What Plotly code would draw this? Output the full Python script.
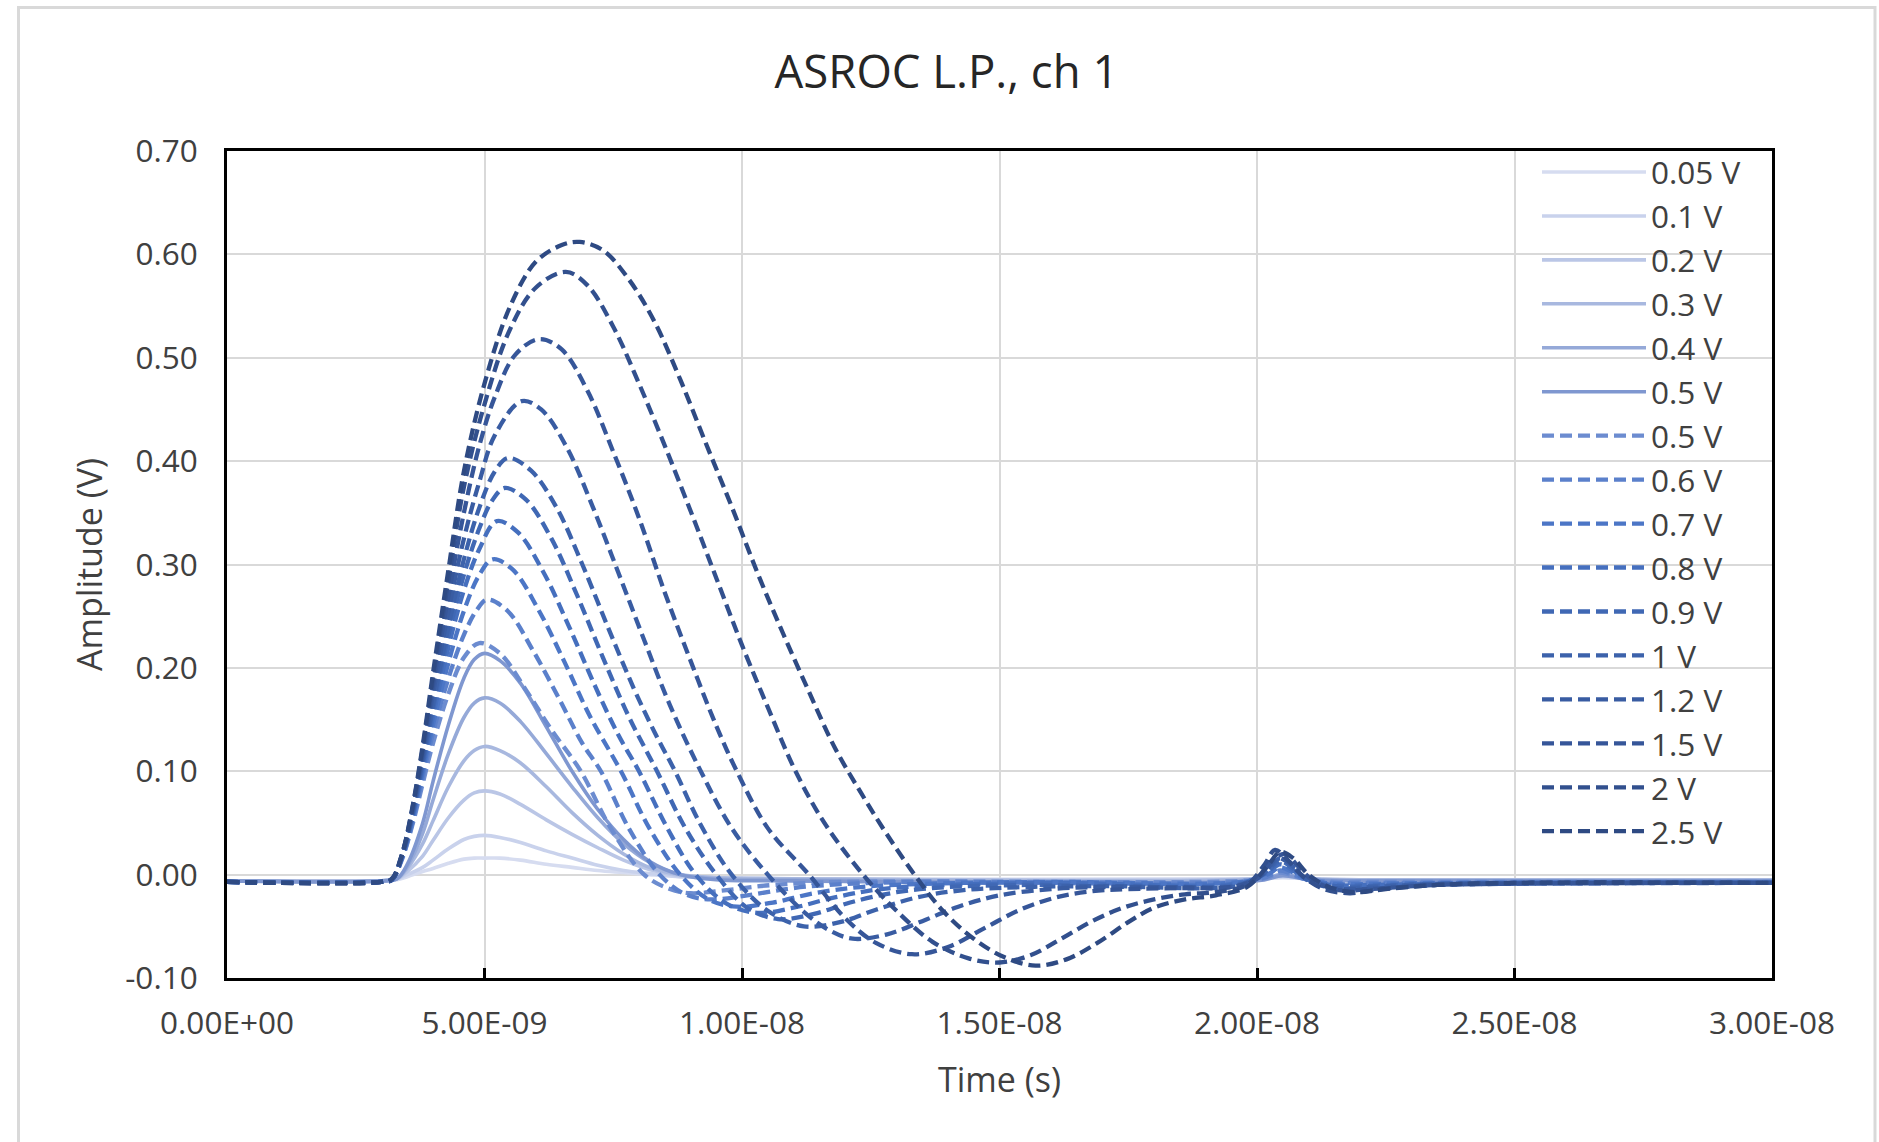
import plotly.graph_objects as go

# ---------------- data (time in ns, amplitude in V) ----------------
labels = ["0.05 V", "0.1 V", "0.2 V", "0.3 V", "0.4 V", "0.5 V",
          "0.5 V", "0.6 V", "0.7 V", "0.8 V", "0.9 V", "1 V", "1.2 V", "1.5 V", "2 V", "2.5 V"]

x_tickvals = [0, 5e-9, 1e-8, 1.5e-8, 2e-8, 2.5e-8, 3e-8]
x_ticktext = ["0.00E+00", "5.00E-09", "1.00E-08", "1.50E-08", "2.00E-08", "2.50E-08", "3.00E-08"]
y_tickvals = [-0.1, 0.0, 0.1, 0.2, 0.3, 0.4, 0.5, 0.6, 0.7]
y_ticktext = ["-0.10", "0.00", "0.10", "0.20", "0.30", "0.40", "0.50", "0.60", "0.70"]

t_solid = [0, 3.0, 3.3, 3.5, 3.8, 4.0, 4.3, 4.6, 4.8, 5.0, 5.3, 5.7, 6.2, 6.7, 7.2, 7.7, 8.2, 8.8, 9.5, 11,
           20, 20.5, 21, 22, 30]
v_005 = [-0.006, -0.006, -0.005, -0.002, 0.003, 0.006, 0.011, 0.015, 0.016, 0.016, 0.016, 0.014, 0.01, 0.007,
         0.004, 0.002, 0.0, -0.002, -0.003, -0.004, -0.004, -0.003, -0.004, -0.005, -0.005]
v_01 = [-0.006, -0.006, -0.004, 0.0, 0.007, 0.014, 0.025, 0.034, 0.037, 0.038, 0.036, 0.031, 0.023, 0.016,
        0.009, 0.004, 0.001, -0.002, -0.003, -0.004, -0.004, -0.002, -0.004, -0.005, -0.005]
v_02 = [-0.006, -0.006, -0.004, 0.003, 0.018, 0.033, 0.055, 0.072, 0.079, 0.081, 0.078, 0.068, 0.053, 0.039,
        0.026, 0.014, 0.005, -0.001, -0.003, -0.004, -0.004, -0.001, -0.004, -0.005, -0.005]
v_03 = [-0.006, -0.006, -0.004, 0.006, 0.03, 0.052, 0.085, 0.11, 0.12, 0.124, 0.12, 0.108, 0.085, 0.06,
        0.038, 0.02, 0.007, 0.0, -0.003, -0.004, -0.004, 0.0, -0.004, -0.005, -0.005]
v_04 = [-0.006, -0.006, -0.004, 0.008, 0.04, 0.072, 0.117, 0.152, 0.166, 0.171, 0.166, 0.148, 0.117, 0.085,
        0.055, 0.03, 0.012, 0.0, -0.004, -0.005, -0.005, 0.0, -0.004, -0.006, -0.006]
v_05s = [-0.006, -0.006, -0.004, 0.01, 0.05, 0.09, 0.145, 0.19, 0.208, 0.214, 0.207, 0.185, 0.143, 0.1,
         0.063, 0.034, 0.013, 0.0, -0.005, -0.006, -0.006, -0.001, -0.005, -0.006, -0.006]

t_05d = [0, 3.0, 3.2, 3.4, 3.6, 3.8, 4.0, 4.3, 4.6, 4.9, 5.3, 5.8, 6.3, 6.87, 7.45, 8.1, 8.6, 9.0, 9.7, 10.6,
         12, 19.7, 20.2, 20.45, 20.7, 21.0, 21.5, 22.2, 30]
v_05d = [-0.007, -0.007, -0.005, 0.015, 0.048, 0.088, 0.127, 0.175, 0.21, 0.224, 0.214, 0.179, 0.14, 0.1,
         0.045, 0.0, -0.014, -0.018, -0.015, -0.01, -0.007, -0.006, -0.003, 0.002, -0.001, -0.005, -0.007,
         -0.007, -0.007]

t_06 = [0, 3.0, 3.2, 3.4, 3.6, 3.8, 4.0, 4.3, 4.6, 4.85, 5.05, 5.45, 5.95, 6.45, 6.9, 7.26, 7.8, 8.4, 8.9, 9.4,
        10.1, 11.0, 12.0, 13.5, 19.7, 20.2, 20.45, 20.7, 21.0, 21.5, 22.2, 30]
v_06 = [-0.007, -0.007, -0.005, 0.016, 0.05, 0.094, 0.137, 0.19, 0.232, 0.256, 0.266, 0.255, 0.216, 0.17,
        0.127, 0.1, 0.045, 0.0, -0.019, -0.024, -0.02, -0.013, -0.009, -0.007, -0.007, -0.002, 0.004, 0.0,
        -0.005, -0.008, -0.008, -0.008]

t_07 = [0, 3.0, 3.2, 3.4, 3.6, 3.8, 4.0, 4.3, 4.6, 4.9, 5.16, 5.55, 6.05, 6.55, 7.05, 7.65, 8.2, 8.8, 9.35,
        9.9, 10.6, 11.4, 12.3, 13.5, 16, 19.7, 20.2, 20.45, 20.7, 21.0, 21.5, 22.2, 23.5, 30]
v_07 = [-0.007, -0.007, -0.005, 0.017, 0.053, 0.099, 0.145, 0.205, 0.255, 0.29, 0.305, 0.295, 0.256, 0.206,
        0.153, 0.1, 0.045, 0.0, -0.024, -0.031, -0.027, -0.018, -0.012, -0.009, -0.007, -0.007, 0.0, 0.007,
        0.002, -0.005, -0.009, -0.009, -0.008, -0.008]

t_08 = [0, 3.0, 3.2, 3.4, 3.6, 3.8, 4.0, 4.3, 4.6, 4.9, 5.24, 5.65, 6.15, 6.65, 7.15, 7.6, 8.0, 8.55, 9.1, 9.7,
        10.3, 11.0, 11.8, 12.7, 14, 16, 19.7, 20.2, 20.45, 20.7, 21.0, 21.5, 22.2, 23.5, 30]
v_08 = [-0.007, -0.007, -0.005, 0.017, 0.055, 0.103, 0.153, 0.22, 0.275, 0.315, 0.342, 0.331, 0.292, 0.239,
        0.182, 0.135, 0.1, 0.045, 0.0, -0.028, -0.037, -0.032, -0.022, -0.014, -0.01, -0.008, -0.008, 0.002,
        0.01, 0.004, -0.005, -0.01, -0.01, -0.009, -0.008]

t_09 = [0, 3.0, 3.2, 3.4, 3.6, 3.8, 4.0, 4.3, 4.6, 4.9, 5.15, 5.39, 5.8, 6.3, 6.8, 7.3, 7.8, 8.35, 8.9, 9.5,
        10.1, 10.7, 11.4, 12.1, 13.0, 14, 15.5, 19.7, 20.2, 20.45, 20.7, 21.0, 21.5, 22.2, 23.5, 30]
v_09 = [-0.007, -0.007, -0.005, 0.018, 0.057, 0.107, 0.16, 0.232, 0.29, 0.335, 0.362, 0.374, 0.363, 0.325,
        0.27, 0.21, 0.153, 0.1, 0.045, 0.0, -0.032, -0.043, -0.038, -0.027, -0.017, -0.012, -0.01, -0.009,
        0.003, 0.013, 0.006, -0.005, -0.011, -0.011, -0.009, -0.008]

t_1 = [0, 3.0, 3.2, 3.4, 3.6, 3.8, 4.0, 4.3, 4.6, 4.9, 5.2, 5.46, 5.9, 6.4, 6.9, 7.4, 7.9, 8.3, 8.7, 9.2,
       9.8, 10.5, 11.2, 11.9, 12.6, 13.4, 14.3, 15.5, 17, 19.7, 20.2, 20.45, 20.7, 21.0, 21.5, 22.2, 23.5, 30]
v_1 = [-0.007, -0.007, -0.005, 0.018, 0.058, 0.11, 0.165, 0.24, 0.305, 0.355, 0.39, 0.403, 0.391, 0.355,
       0.3, 0.239, 0.18, 0.138, 0.1, 0.048, 0.0, -0.035, -0.05, -0.046, -0.034, -0.022, -0.015, -0.012,
       -0.011, -0.01, 0.004, 0.016, 0.008, -0.006, -0.013, -0.012, -0.009, -0.008]

t_12 = [0, 3.0, 3.2, 3.4, 3.6, 3.8, 4.0, 4.3, 4.6, 4.9, 5.2, 5.72, 6.1, 6.6, 7.1, 7.6, 8.1, 8.6, 9.2, 9.8,
        10.5, 11.2, 11.7, 12.15, 12.8, 13.5, 14.2, 15.0, 16, 17, 18.5, 19.6, 20.1, 20.4, 20.6, 20.9, 21.3,
        22.0, 23.5, 30]
v_12 = [-0.007, -0.007, -0.005, 0.019, 0.06, 0.114, 0.175, 0.255, 0.325, 0.38, 0.425, 0.458, 0.45, 0.413,
        0.356, 0.292, 0.227, 0.164, 0.1, 0.045, 0.0, -0.036, -0.054, -0.062, -0.058, -0.045, -0.031, -0.02,
        -0.014, -0.012, -0.012, -0.011, 0.0, 0.016, 0.012, -0.002, -0.012, -0.014, -0.01, -0.008]

t_15 = [0, 3.0, 3.2, 3.4, 3.6, 3.8, 4.0, 4.3, 4.6, 4.9, 5.2, 5.6, 6.06, 6.5, 7.0, 7.5, 8.0, 8.5, 9.0, 9.5,
        9.9, 10.5, 11.3, 12.0, 12.6, 13.3, 14.0, 14.7, 15.4, 16.1, 16.8, 17.5, 18.5, 19.5, 20.0, 20.3, 20.55,
        20.8, 21.1, 21.6, 22.2, 23.5, 30]
v_15 = [-0.007, -0.007, -0.005, 0.019, 0.062, 0.118, 0.183, 0.27, 0.35, 0.415, 0.462, 0.503, 0.518, 0.508,
        0.468, 0.409, 0.345, 0.273, 0.207, 0.144, 0.1, 0.045, 0.0, -0.042, -0.066, -0.077, -0.07, -0.052,
        -0.034, -0.022, -0.016, -0.014, -0.013, -0.012, -0.004, 0.014, 0.02, 0.008, -0.006, -0.015, -0.014,
        -0.01, -0.008]

t_2 = [0, 3.0, 3.2, 3.4, 3.6, 3.8, 4.0, 4.3, 4.6, 5.0, 5.5, 6.0, 6.58, 7.0, 7.5, 8.0, 8.5, 9.0, 9.5, 10.0,
       10.5, 11.04, 11.6, 12.35, 13.0, 13.7, 14.4, 15.0, 15.6, 16.2, 16.8, 17.4, 18.0, 18.6, 19.2, 19.8,
       20.15, 20.35, 20.6, 20.9, 21.3, 21.8, 22.4, 23.5, 25, 30]
v_2 = [-0.007, -0.007, -0.004, 0.02, 0.064, 0.122, 0.19, 0.285, 0.375, 0.455, 0.528, 0.568, 0.583, 0.57,
       0.53, 0.475, 0.415, 0.352, 0.287, 0.222, 0.162, 0.1, 0.05, 0.0, -0.035, -0.065, -0.081, -0.085, -0.078,
       -0.062, -0.045, -0.032, -0.024, -0.019, -0.017, -0.01, 0.01, 0.024, 0.014, -0.002, -0.014, -0.018,
       -0.014, -0.01, -0.008, -0.008]

t_25 = [0, 3.0, 3.2, 3.4, 3.6, 3.8, 4.0, 4.3, 4.6, 5.0, 5.5, 6.0, 6.5, 6.85, 7.3, 7.8, 8.3, 8.8, 9.3, 9.8,
        10.3, 10.8, 11.3, 11.8, 12.3, 12.8, 13.35, 13.9, 14.5, 15.1, 15.7, 16.3, 16.9, 17.5, 18.0, 18.6, 19.2,
        19.8, 20.2, 20.45, 20.7, 21.0, 21.4, 21.9, 22.5, 23.5, 25, 30]
v_25 = [-0.007, -0.007, -0.004, 0.02, 0.065, 0.125, 0.195, 0.295, 0.39, 0.475, 0.55, 0.593, 0.609, 0.612,
        0.604, 0.576, 0.535, 0.479, 0.417, 0.356, 0.292, 0.233, 0.177, 0.123, 0.08, 0.04, 0.0, -0.035, -0.062,
        -0.08, -0.088, -0.082, -0.066, -0.046, -0.032, -0.024, -0.02, -0.012, 0.008, 0.022, 0.016, 0.0,
        -0.012, -0.017, -0.014, -0.01, -0.008, -0.008]

# ---------------- styles ----------------
colors = ["#d6dcf0", "#c9d2ec", "#bac6e6", "#a8b8df", "#95a9d8", "#7f97d0",
          "#6c8cd0", "#5b80cb", "#4c76c6", "#456fbe", "#4068b4", "#3c62ab", "#395ca2", "#365699",
          "#32508e", "#2e4a83"]

series_t = [t_solid, t_solid, t_solid, t_solid, t_solid, t_solid,
            t_05d, t_06, t_07, t_08, t_09, t_1, t_12, t_15, t_2, t_25]
series_v = [v_005, v_01, v_02, v_03, v_04, v_05s,
            v_05d, v_06, v_07, v_08, v_09, v_1, v_12, v_15, v_2, v_25]

FONT = "Open Sans"
TXT = "#404040"

fig = go.Figure()
for i, (lab, ts, vs, col) in enumerate(zip(labels, series_t, series_v, colors)):
    assert len(ts) == len(vs), lab
    solid = i < 6
    fig.add_trace(go.Scatter(
        x=[t * 1e-9 for t in ts], y=vs, name=lab, mode="lines",
        line=dict(color=col, width=3.6 if solid else 4.3, shape="spline", smoothing=1.0,
                  dash="solid" if solid else "12px,6px"),
        hoverinfo="skip"))

fig.update_layout(
    width=1879, height=1142,
    margin=dict(l=227, r=107, t=151, b=164, pad=0),
    paper_bgcolor="white", plot_bgcolor="white",
    font=dict(family=FONT, color=TXT),
    title=dict(text="ASROC L.P., ch 1", x=946.5 / 1879, xref="container", xanchor="center",
               y=1 - 72 / 1142, yref="container", yanchor="middle",
               font=dict(size=45.5, color="#262626", family=FONT)),
    xaxis=dict(range=[0, 3e-8], tickvals=x_tickvals, ticktext=x_ticktext,
               showgrid=True, gridcolor="#d9d9d9", gridwidth=2, zeroline=False,
               showline=True, linecolor="black", linewidth=3, mirror=True,
               ticks="inside", ticklen=10, tickwidth=2.5, tickcolor="black",
               ticklabelstandoff=15,
               tickfont=dict(size=31.5, color=TXT, family=FONT),
               title=dict(text="Time (s)", standoff=27, font=dict(size=34, color=TXT, family=FONT))),
    yaxis=dict(range=[-0.1, 0.7], tickvals=y_tickvals, ticktext=y_ticktext,
               showgrid=True, gridcolor="#d9d9d9", gridwidth=2, zeroline=False,
               showline=True, linecolor="black", linewidth=3, mirror=True,
               ticks="", ticklabelstandoff=20,
               tickfont=dict(size=31.5, color=TXT, family=FONT),
               title=dict(text="Amplitude (V)", standoff=13, font=dict(size=34, color=TXT, family=FONT))),
    legend=dict(x=(1537 - 227) / 1545, y=1 + 6 / 827, xanchor="left", yanchor="top",
                bgcolor="rgba(0,0,0,0)", borderwidth=0, itemwidth=104, tracegroupgap=0,
                maxheight=1100,
                font=dict(size=31.5, color=TXT, family=FONT)),
    showlegend=True,
    shapes=[dict(type="rect", xref="paper", yref="paper",
                 x0=(18.5 - 227) / 1545, x1=(1875 - 227) / 1545,
                 y0=(978 - 1190) / 827, y1=(978 - 7.5) / 827,
                 line=dict(color="#d9d9d9", width=3), fillcolor="rgba(0,0,0,0)", layer="below")],
)

fig.write_html("out.html")
